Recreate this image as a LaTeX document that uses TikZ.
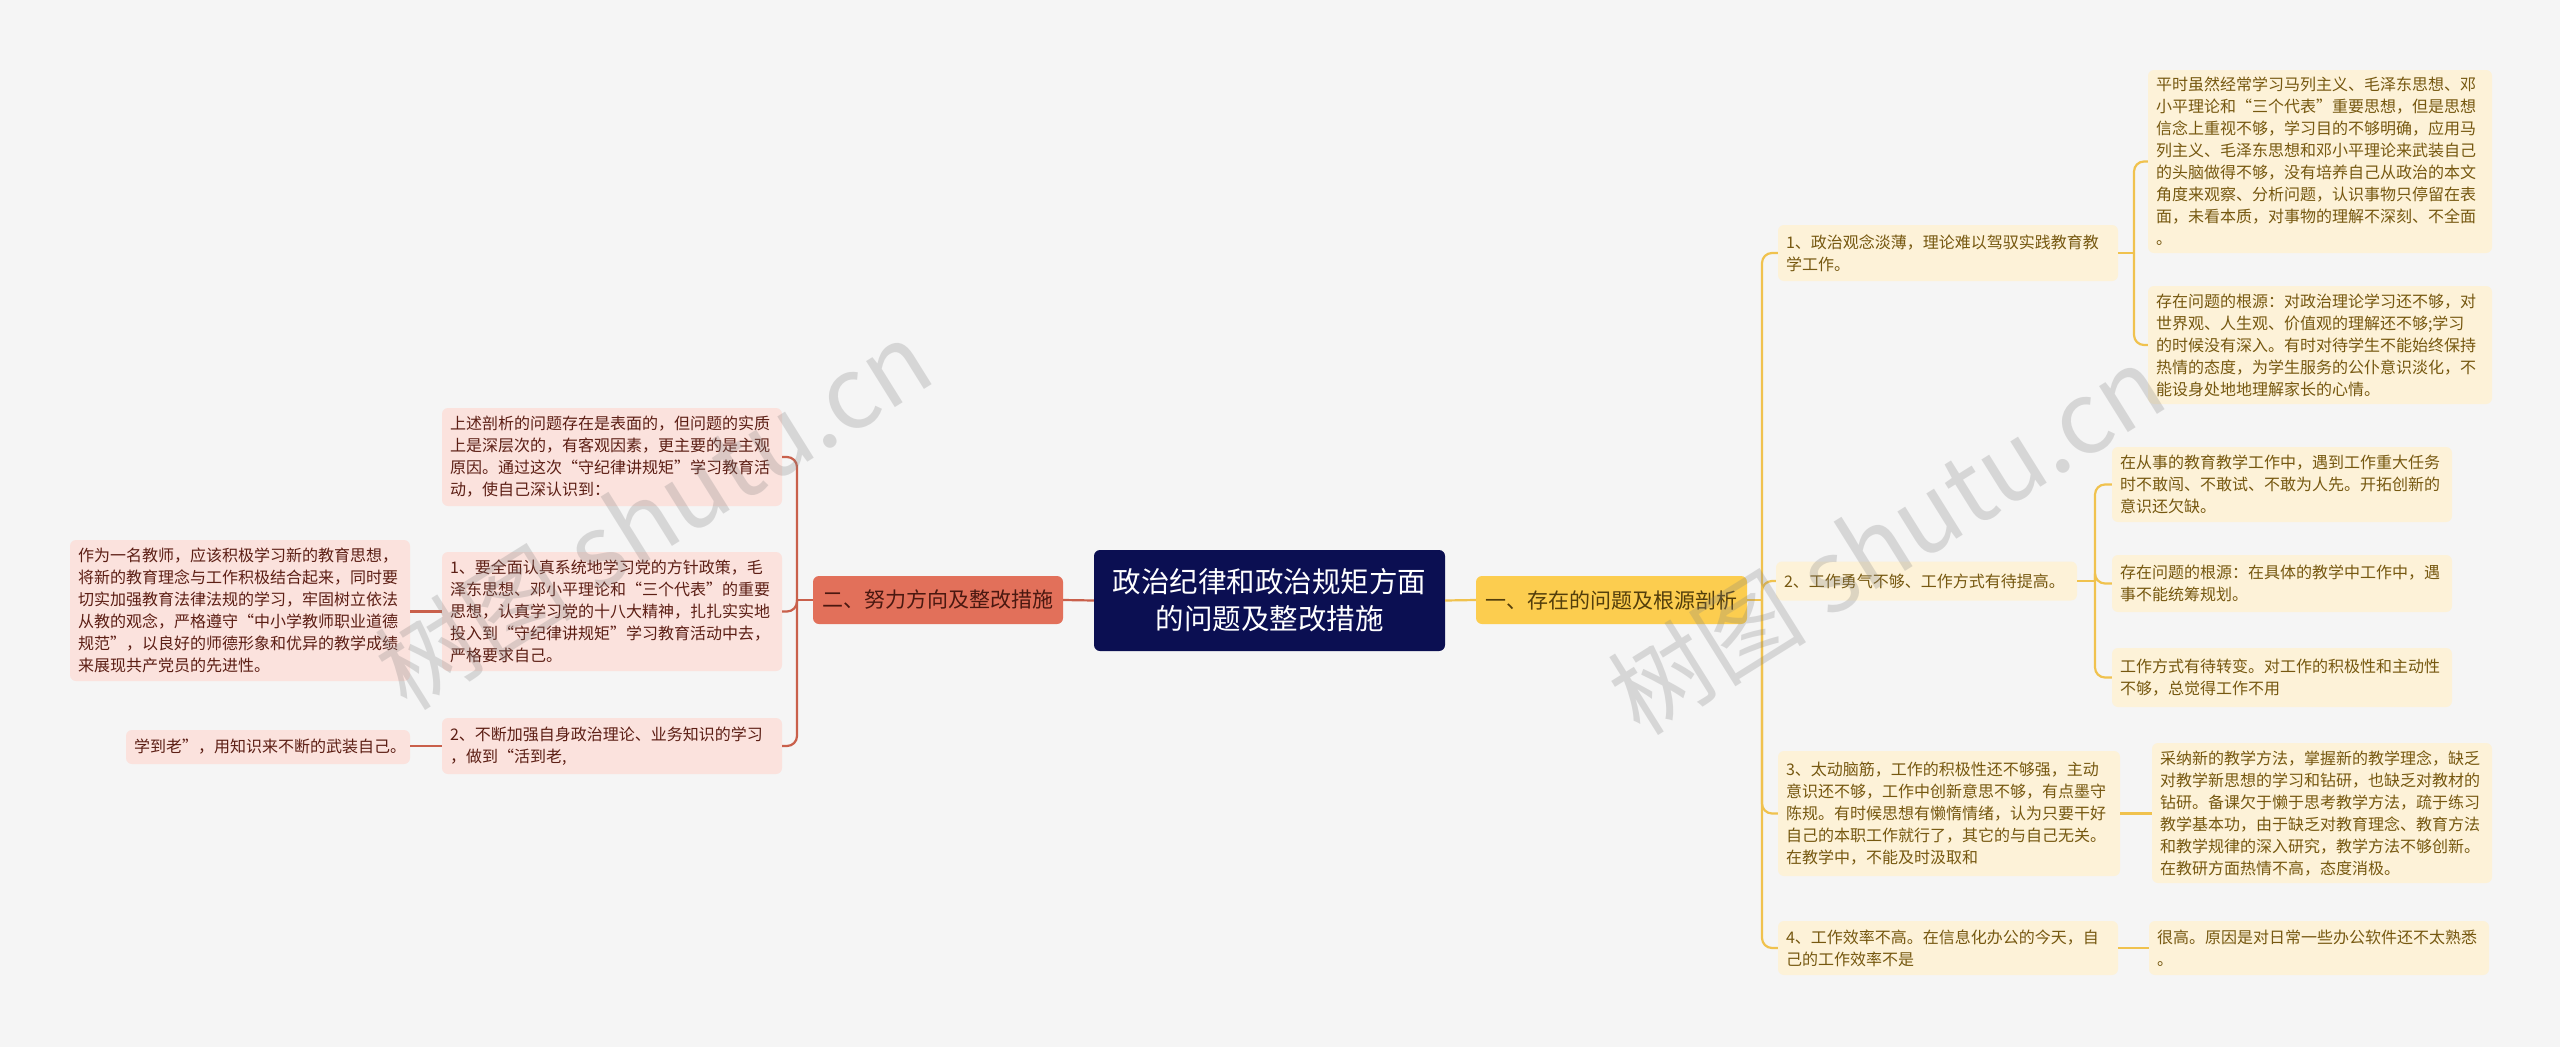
\documentclass[tikz,border=0pt]{standalone}
\usepackage{fontspec}
\setmainfont{Noto Sans CJK SC}
\newfontfamily\cjk{Noto Sans CJK SC}
\definecolor{bgc}{HTML}{F5F5F5}
\definecolor{rootc}{HTML}{0B0F52}
\definecolor{lbc}{HTML}{E2705A}
\definecolor{rbc}{HTML}{FCCD4F}
\definecolor{rleaf}{HTML}{FDF2D8}
\definecolor{rtext}{HTML}{765810}
\definecolor{lleaf}{HTML}{FBE2DD}
\definecolor{ltext}{HTML}{5C1E14}
\definecolor{rline}{HTML}{F0C24E}
\definecolor{lline}{HTML}{C9604B}
\tikzset{
  base/.style={rounded corners=6pt, inner xsep=8pt, inner ysep=0pt, align=left},
  rootbox/.style={base, fill=rootc, text=white, align=center, font=\cjk\fontsize{28.5}{37}\selectfont},
  lbranch/.style={base, fill=lbc, text=ltext!80!black, align=center, font=\cjk\fontsize{21}{26}\selectfont},
  rbranch/.style={base, fill=rbc, text=rtext!70!black, align=center, font=\cjk\fontsize{21}{26}\selectfont},
  rleafbox/.style={base, fill=rleaf, text=rtext, font=\cjk\fontsize{16}{22}\selectfont},
  lleafbox/.style={base, fill=lleaf, text=ltext, font=\cjk\fontsize{16}{22}\selectfont},
  rconn/.style={draw=rline, line width=2.2pt, rounded corners=10pt},
  lconn/.style={draw=lline, line width=2.2pt, rounded corners=10pt},
  wmark/.style={text=gray, opacity=0.26, font=\cjk\fontsize{100}{100}\selectfont, rotate=32},
  sz/.code 2 args={\pgfmathsetmacro\mytw{#1-16}\edef\mytwd{\mytw pt}\pgfkeysalso{minimum width=#1pt, minimum height=#2pt, text width/.expanded=\mytwd}}
}
\begin{document}
\begin{tikzpicture}[x=1pt,y=-1pt]
\fill[bgc] (0,0) rectangle (2560,1047);
\useasboundingbox (0,0) rectangle (2560,1047);

% root and branches
\node[rootbox, minimum width=351pt, minimum height=101pt] (root) at (1269.5,600.5) {政治纪律和政治规矩方面\\的问题及整改措施};
\node[lbranch, minimum width=250pt, minimum height=48pt] (lb) at (938,600) {二、努力方向及整改措施};
\node[rbranch, minimum width=271pt, minimum height=48pt] (rb) at (1611.5,600) {一、存在的问题及根源剖析};

% right items
\node[rleafbox, sz={340}{56}] (i1) at (1948,253) {1、政治观念淡薄，理论难以驾驭实践教育教\\学工作。};
\node[rleafbox, sz={301}{39}] (i2) at (1926.5,581) {2、工作勇气不够、工作方式有待提高。};
\node[rleafbox, sz={342}{125}] (i3) at (1949,813.5) {3、太动脑筋，工作的积极性还不够强，主动\\意识还不够，工作中创新意思不够，有点墨守\\陈规。有时候思想有懒惰情绪，认为只要干好\\自己的本职工作就行了，其它的与自己无关。\\在教学中，不能及时汲取和};
\node[rleafbox, sz={340}{54}] (i4) at (1948,948) {4、工作效率不高。在信息化办公的今天，自\\己的工作效率不是};

\node[rleafbox, sz={344}{183}] (a1) at (2320,161.5) {平时虽然经常学习马列主义、毛泽东思想、邓\\小平理论和“三个代表”重要思想，但是思想\\信念上重视不够，学习目的不够明确，应用马\\列主义、毛泽东思想和邓小平理论来武装自己\\的头脑做得不够，没有培养自己从政治的本文\\角度来观察、分析问题，认识事物只停留在表\\面，未看本质，对事物的理解不深刻、不全面\\。};
\node[rleafbox, sz={344}{118}] (b1) at (2320,345) {存在问题的根源：对政治理论学习还不够，对\\世界观、人生观、价值观的理解还不够;学习\\的时候没有深入。有时对待学生不能始终保持\\热情的态度，为学生服务的公仆意识淡化，不\\能设身处地地理解家长的心情。};
\node[rleafbox, sz={340}{75}] (a2) at (2282,484.5) {在从事的教育教学工作中，遇到工作重大任务\\时不敢闯、不敢试、不敢为人先。开拓创新的\\意识还欠缺。};
\node[rleafbox, sz={340}{57}] (b2) at (2282,583.5) {存在问题的根源：在具体的教学中工作中，遇\\事不能统筹规划。};
\node[rleafbox, sz={340}{59}] (c2) at (2282,677.5) {工作方式有待转变。对工作的积极性和主动性\\不够，总觉得工作不用};
\node[rleafbox, sz={340}{140}] (a3) at (2322,813) {采纳新的教学方法，掌握新的教学理念，缺乏\\对教学新思想的学习和钻研，也缺乏对教材的\\钻研。备课欠于懒于思考教学方法，疏于练习\\教学基本功，由于缺乏对教育理念、教育方法\\和教学规律的深入研究，教学方法不够创新。\\在教研方面热情不高，态度消极。};
\node[rleafbox, sz={340}{54}] (a4) at (2319,948) {很高。原因是对日常一些办公软件还不太熟悉\\。};

% left items
\node[lleafbox, sz={340}{98}] (l1) at (612,457) {上述剖析的问题存在是表面的，但问题的实质\\上是深层次的，有客观因素，更主要的是主观\\原因。通过这次“守纪律讲规矩”学习教育活\\动，使自己深认识到：};
\node[lleafbox, sz={340}{119}] (l2) at (612,611.5) {1、要全面认真系统地学习党的方针政策，毛\\泽东思想、邓小平理论和“三个代表”的重要\\思想，认真学习党的十八大精神，扎扎实实地\\投入到“守纪律讲规矩”学习教育活动中去，\\严格要求自己。};
\node[lleafbox, sz={340}{56}] (l3) at (612,746) {2、不断加强自身政治理论、业务知识的学习\\，做到“活到老,};
\node[lleafbox, sz={340}{141}] (l2a) at (240,610.5) {作为一名教师，应该积极学习新的教育思想，\\将新的教育理念与工作积极结合起来，同时要\\切实加强教育法律法规的学习，牢固树立依法\\从教的观念，严格遵守“中小学教师职业道德\\规范”，以良好的师德形象和优异的教学成绩\\来展现共产党员的先进性。};
\node[lleafbox, sz={284}{34}] (l3a) at (268,747) {学到老”，用知识来不断的武装自己。};

% connector junctions
\coordinate (rt) at (1762,600);
\coordinate (rt1) at (2134,253);
\coordinate (rt2) at (2095,581);
\coordinate (lt) at (797,600);

% main connectors
\draw[draw=lline, line width=2.2pt] (root.west) -- (lb.east);
\draw[draw=rline, line width=2.2pt] (root.east) -- (rb.west);

% right tree
\draw[rconn] (rb.east) -- (rt);
\draw[rconn] (rt) |- (i1.west);
\draw[rconn] (rt) |- (i2.west);
\draw[rconn] (rt) |- (i3.west);
\draw[rconn] (rt) |- (i4.west);
\draw[rconn] (i1.east) -- (rt1);
\draw[rconn] (rt1) |- (a1.west);
\draw[rconn] (rt1) |- (b1.west);
\draw[rconn] (i2.east) -- (rt2);
\draw[rconn] (rt2) |- (a2.west);
\draw[rconn] (rt2) |- (b2.west);
\draw[rconn] (rt2) |- (c2.west);
\draw[rconn] (i3.east) -- (i3.east -| a3.west);
\draw[rconn] (i4.east) -- (i4.east -| a4.west);

% left tree
\draw[lconn] (lb.west) -- (lt);
\draw[lconn] (lt) |- (l1.east);
\draw[lconn] (lt) |- (l2.east);
\draw[lconn] (lt) |- (l3.east);
\draw[lconn] (l2.west) -- (l2.west -| l2a.east);
\draw[lconn] (l3.west) -- (l3.west -| l3a.east);

% watermarks
\node[wmark] (wm1) at (653,514) {树图 shutu.cn};
\node[wmark] (wm2) at (1886,539) {树图 shutu.cn};
\end{tikzpicture}
\end{document}
